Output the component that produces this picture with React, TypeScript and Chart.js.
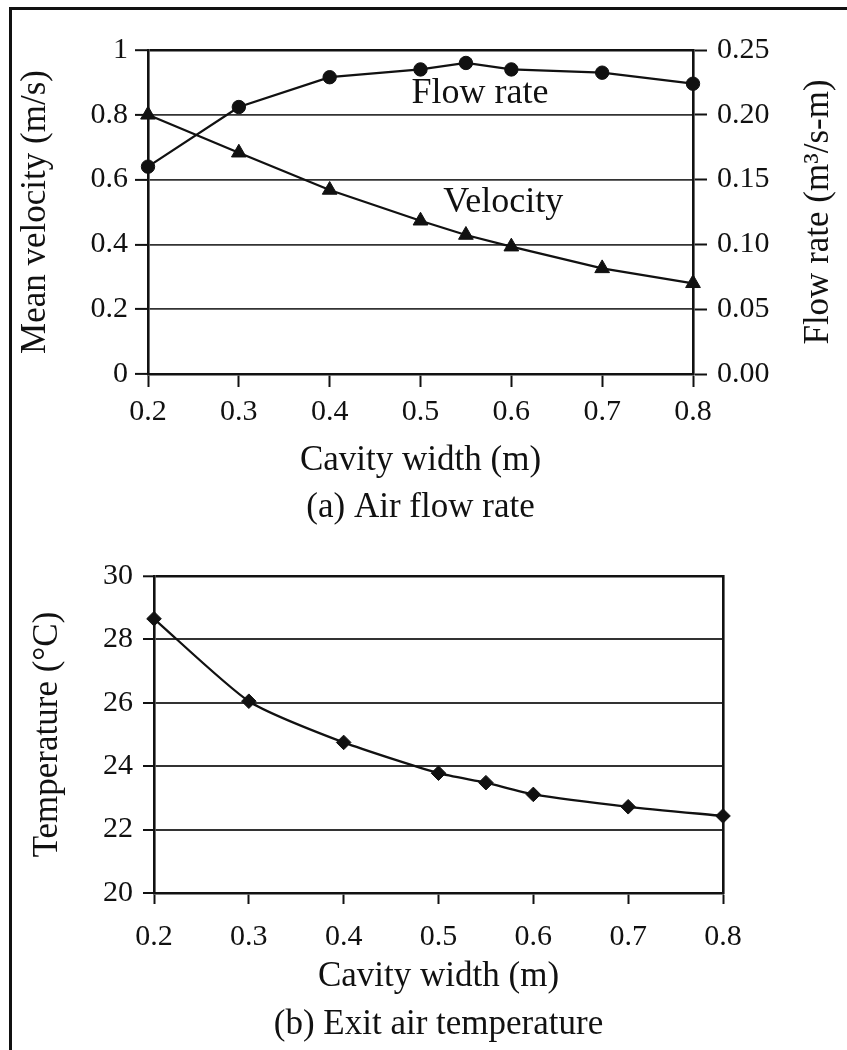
import React, { useEffect, useRef } from "react";
import { Chart, registerables } from "chart.js";

Chart.register(...registerables);

// ---------- data ----------
const cavityWidth = [0.2, 0.3, 0.4, 0.5, 0.55, 0.6, 0.7, 0.8];
const meanVelocity = [0.8, 0.683, 0.568, 0.473, 0.429, 0.393, 0.326, 0.28];
const flowRate = [0.16, 0.206, 0.229, 0.235, 0.24, 0.235, 0.2325, 0.224];
const exitTemperature = [28.65, 26.05, 24.75, 23.78, 23.48, 23.11, 22.72, 22.43];

// ---------- tick values ----------
const widthTicks = [0.2, 0.3, 0.4, 0.5, 0.6, 0.7, 0.8];
const velocityTicks = [0, 0.2, 0.4, 0.6, 0.8, 1];
const flowTicks = [0, 0.05, 0.1, 0.15, 0.2, 0.25];
const temperatureTicks = [20, 22, 24, 26, 28, 30];

// ---------- in-plot series labels (data units, left axis) ----------
const seriesNoteText = ["Flow rate", "Velocity"];
const seriesNoteX = [0.49, 0.525];
const seriesNoteY = [0.836, 0.5];

const serif = "'Liberation Serif', 'Times New Roman', Times, serif";
const ink = "#111111";
const gridInk = "#333333";

Chart.defaults.font.family = serif;
Chart.defaults.color = ink;

const tickFont = { family: serif, size: 30, weight: "normal" as const, lineHeight: 1.2 };
const titleFont = { family: serif, size: 35, weight: "normal" as const, lineHeight: 1.2 };

const setTicks = (values: number[]) => (scale: any) => {
  scale.ticks = values.map((v) => ({ value: v }));
};

const notesPlugin = {
  id: "seriesNotes",
  afterDatasetsDraw(chart: any) {
    const { ctx } = chart;
    const xs = chart.scales.x;
    const ys = chart.scales.y;
    ctx.save();
    ctx.font = `36px ${serif}`;
    ctx.fillStyle = ink;
    ctx.textAlign = "left";
    ctx.textBaseline = "alphabetic";
    seriesNoteText.forEach((t, i) => {
      ctx.fillText(t, xs.getPixelForValue(seriesNoteX[i]), ys.getPixelForValue(seriesNoteY[i]));
    });
    ctx.restore();
  },
};

const rightTitlePlugin = {
  id: "rightTitle",
  afterDraw(chart: any) {
    const s = chart.scales.y1;
    const ca = chart.chartArea;
    const ctx = chart.ctx;
    ctx.save();
    ctx.translate(s.right - 28, (ca.top + ca.bottom) / 2);
    ctx.rotate(-Math.PI / 2);
    ctx.font = `35px ${serif}`;
    ctx.fillStyle = ink;
    ctx.textAlign = "center";
    ctx.textBaseline = "middle";
    ctx.fillText("Flow rate (m\u00B3/s-m)", 0, 0);
    ctx.restore();
  },
};

export default function App() {
  const refA = useRef<HTMLCanvasElement | null>(null);
  const refB = useRef<HTMLCanvasElement | null>(null);

  useEffect(() => {
    const chartA = new Chart(refA.current as HTMLCanvasElement, {
      type: "line",
      data: {
        datasets: [
          {
            label: "Velocity",
            data: cavityWidth.map((x, i) => ({ x, y: meanVelocity[i] })),
            yAxisID: "y",
            borderColor: ink,
            borderWidth: 2.3,
            pointStyle: "triangle",
            pointRadius: 8.5,
            pointBackgroundColor: ink,
            pointBorderColor: ink,
            pointBorderWidth: 1,
            tension: 0,
            clip: false as any,
          },
          {
            label: "Flow rate",
            data: cavityWidth.map((x, i) => ({ x, y: flowRate[i] })),
            yAxisID: "y1",
            borderColor: ink,
            borderWidth: 2.3,
            pointStyle: "circle",
            pointRadius: 6.7,
            pointBackgroundColor: ink,
            pointBorderColor: ink,
            pointBorderWidth: 1,
            tension: 0,
            clip: false as any,
          },
        ],
      },
      options: {
        animation: false,
        responsive: false,
        maintainAspectRatio: false,
        devicePixelRatio: 1,
        events: [],
        layout: { padding: { top: 50, left: 0, right: 0, bottom: 0 } },
        plugins: {
          legend: { display: false },
          tooltip: { enabled: false },
          title: {
            display: true,
            position: "bottom",
            fullSize: false,
            text: "(a) Air flow rate",
            font: titleFont,
            color: ink,
            padding: { top: 2, bottom: 10 },
          },
        },
        scales: {
          x: {
            type: "linear",
            position: "bottom",
            min: 0.2,
            max: 0.8,
            afterBuildTicks: setTicks(widthTicks),
            afterFit: (s: any) => {
              s.height = 111;
            },
            ticks: {
              font: tickFont,
              color: ink,
              padding: 7,
              maxRotation: 0,
              autoSkip: false,
              callback: (v: any) => Number(v).toFixed(1),
            },
            grid: {
              drawOnChartArea: false,
              drawTicks: true,
              tickLength: 13,
              tickColor: ink,
              tickWidth: 2,
              color: gridInk,
            },
            border: { display: true, color: ink, width: 2.6 },
            title: {
              display: true,
              text: "Cavity width (m)",
              font: titleFont,
              color: ink,
              padding: { top: 0, bottom: 3 },
            },
          },
          y: {
            type: "linear",
            position: "left",
            min: 0,
            max: 1,
            afterBuildTicks: setTicks(velocityTicks),
            afterFit: (s: any) => {
              s.width = 148;
            },
            ticks: {
              font: tickFont,
              color: ink,
              padding: 7,
              callback: (v: any) => String(Math.round(Number(v) * 10) / 10),
            },
            grid: {
              drawOnChartArea: true,
              drawTicks: true,
              tickLength: 13,
              color: (c: any) => (c.tick && c.tick.value === 1 ? ink : gridInk),
              lineWidth: (c: any) => (c.tick && c.tick.value === 1 ? 2.4 : 1.8),
              tickColor: ink,
              tickWidth: 2,
            },
            border: { display: true, color: ink, width: 2.6 },
            title: {
              display: true,
              text: "Mean velocity (m/s)",
              font: titleFont,
              color: ink,
              padding: { top: 15, bottom: 0 },
            },
          },
          y1: {
            type: "linear",
            position: "right",
            min: 0,
            max: 0.25,
            afterBuildTicks: setTicks(flowTicks),
            afterFit: (s: any) => {
              s.width = 154;
            },
            ticks: {
              font: tickFont,
              color: ink,
              padding: 10,
              callback: (v: any) => Number(v).toFixed(2),
            },
            grid: {
              drawOnChartArea: false,
              drawTicks: true,
              tickLength: 14,
              tickColor: ink,
              tickWidth: 2,
              color: gridInk,
            },
            border: { display: true, color: ink, width: 2.6 },
          },
        },
      } as any,
      plugins: [notesPlugin, rightTitlePlugin],
    });

    const chartB = new Chart(refB.current as HTMLCanvasElement, {
      type: "line",
      data: {
        datasets: [
          {
            label: "Exit air temperature",
            data: cavityWidth.map((x, i) => ({ x, y: exitTemperature[i] })),
            yAxisID: "y",
            borderColor: ink,
            borderWidth: 2.3,
            pointStyle: "rectRot",
            pointRadius: 7.3,
            pointBackgroundColor: ink,
            pointBorderColor: ink,
            pointBorderWidth: 1,
            tension: 0.2,
            clip: false as any,
          },
        ],
      },
      options: {
        animation: false,
        responsive: false,
        maintainAspectRatio: false,
        devicePixelRatio: 1,
        events: [],
        layout: { padding: { top: 31, left: 0, right: 0, bottom: 0 } },
        plugins: {
          legend: { display: false },
          tooltip: { enabled: false },
          title: {
            display: true,
            position: "bottom",
            fullSize: false,
            text: "(b) Exit air temperature",
            font: titleFont,
            color: ink,
            padding: { top: 4, bottom: 4 },
          },
        },
        scales: {
          x: {
            type: "linear",
            position: "bottom",
            min: 0.2,
            max: 0.8,
            afterBuildTicks: setTicks(widthTicks),
            afterFit: (s: any) => {
              s.height = 107;
            },
            ticks: {
              font: tickFont,
              color: ink,
              padding: 15,
              maxRotation: 0,
              autoSkip: false,
              callback: (v: any) => Number(v).toFixed(1),
            },
            grid: {
              drawOnChartArea: false,
              drawTicks: true,
              tickLength: 11,
              tickColor: ink,
              tickWidth: 2,
              color: gridInk,
            },
            border: { display: true, color: ink, width: 2.6 },
            title: {
              display: true,
              text: "Cavity width (m)",
              font: titleFont,
              color: ink,
              padding: { top: 0, bottom: 2 },
            },
          },
          y: {
            type: "linear",
            position: "left",
            min: 20,
            max: 30,
            afterBuildTicks: setTicks(temperatureTicks),
            afterFit: (s: any) => {
              s.width = 154;
            },
            ticks: {
              font: tickFont,
              color: ink,
              padding: 10,
              callback: (v: any) => String(v),
            },
            grid: {
              drawOnChartArea: true,
              drawTicks: true,
              tickLength: 11,
              color: (c: any) => (c.tick && c.tick.value === 30 ? ink : gridInk),
              lineWidth: (c: any) => (c.tick && c.tick.value === 30 ? 2.6 : 2),
              tickColor: ink,
              tickWidth: 2,
            },
            border: { display: true, color: ink, width: 2.6 },
            title: {
              display: true,
              text: "Temperature (\u00B0C)",
              font: titleFont,
              color: ink,
              padding: { top: 27, bottom: 0 },
            },
          },
          yr: {
            type: "linear",
            position: "right",
            min: 20,
            max: 30,
            display: true,
            afterFit: (s: any) => {
              s.width = 124;
            },
            ticks: { display: false },
            grid: { display: true, drawOnChartArea: false, drawTicks: false },
            border: { display: true, color: ink, width: 2.6 },
          },
        },
      } as any,
    });

    return () => {
      chartA.destroy();
      chartB.destroy();
    };
  }, []);

  return (
    <div
      style={{
        position: "absolute",
        left: 0,
        top: 0,
        width: 847,
        height: 1050,
        background: "#ffffff",
        overflow: "hidden",
      }}
    >
      <canvas
        ref={refA}
        width={847}
        height={539}
        style={{ position: "absolute", left: 0, top: 0, display: "block" }}
      />
      <canvas
        ref={refB}
        width={847}
        height={505}
        style={{ position: "absolute", left: 0, top: 545, display: "block" }}
      />
      <div style={{ position: "absolute", left: 9, top: 7, width: 838, height: 3, background: ink }} />
      <div style={{ position: "absolute", left: 9, top: 7, width: 3, height: 1043, background: ink }} />
    </div>
  );
}
